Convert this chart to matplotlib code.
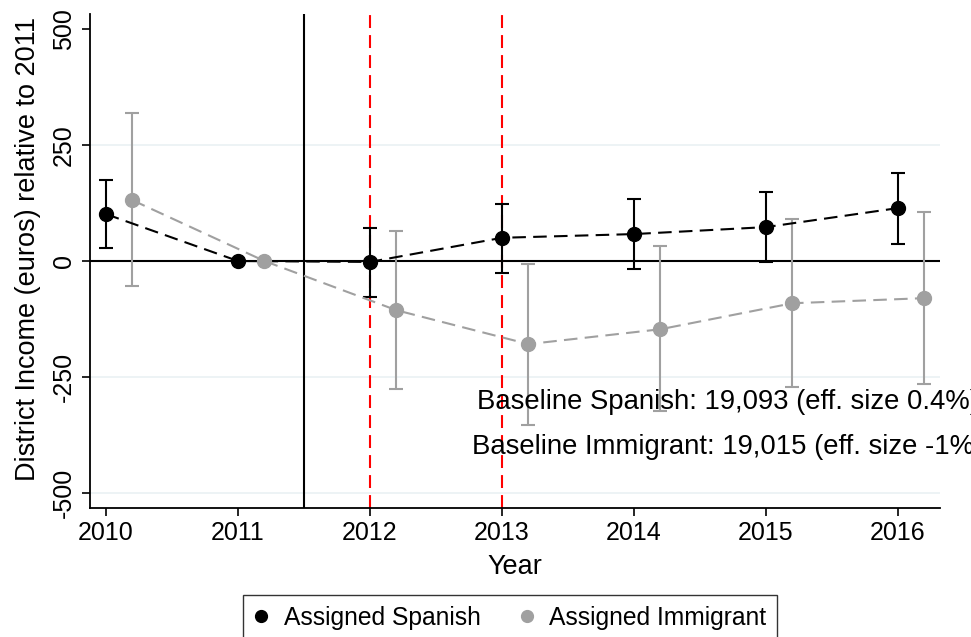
import numpy as np
from matplotlib import pyplot as plt

plt.rcParams['font.family'] = ['Liberation Sans', 'DejaVu Sans']

# region Data
years = [2010, 2011, 2012, 2013, 2014, 2015, 2016]
spanish = [101, 0, -2, 50, 58, 73, 114]
spanish_hi = [175, 0, 71, 123, 133, 149, 190]
spanish_lo = [28, 0, -78, -26, -17, -2, 37]
immigrant = [131, 0, -106, -179, -147, -91, -80]
immigrant_hi = [319, 0, 65, -6, 33, 90, 105]
immigrant_lo = [-54, 0, -276, -353, -323, -272, -264]
note_spanish = "Baseline Spanish: 19,093 (eff. size 0.4%)"
note_immigrant = "Baseline Immigrant: 19,015 (eff. size -1%)"
# endregion

black = "#000000"
gray = "#a0a0a0"

fig = plt.figure(figsize=(9.71, 6.37), dpi=100)
ax = fig.add_axes([90 / 971, 1 - 508 / 637, 850 / 971, 494 / 637])

x_sp = np.array(years, dtype=float)
x_im = x_sp + 0.2

# gridlines
for g in [-500, -250, 250]:
    ax.axhline(g, color="#eaf1f3", lw=1.2, zorder=0)

ax.axhline(0, color=black, lw=1.5, zorder=1)
ax.axvline(2011.5, color=black, lw=1.5, zorder=1)
for yr in [2012, 2013]:
    ax.axvline(yr, color="red", lw=1.5, ls=(0, (6.2, 3.4)), zorder=2)

sp = np.array(spanish)
im = np.array(immigrant)
ax.errorbar(x_sp, sp, yerr=[sp - np.array(spanish_lo), np.array(spanish_hi) - sp],
            fmt="none", ecolor=black, elinewidth=1.5, capsize=5, capthick=1.5, zorder=3)
ax.errorbar(x_im, im, yerr=[im - np.array(immigrant_lo), np.array(immigrant_hi) - im],
            fmt="none", ecolor=gray, elinewidth=1.5, capsize=5, capthick=1.5, zorder=3)
ax.plot(x_sp, sp, color=black, ls=(0, (6.5, 3.5)), lw=1.5, zorder=4)
ax.plot(x_im, im, color=gray, ls=(0, (6.5, 3.5)), lw=1.5, zorder=4)
l1, = ax.plot(x_sp, sp, "o", color=black, ms=10, zorder=5, label="Assigned Spanish")
l2, = ax.plot(x_im, im, "o", color=gray, ms=10, zorder=5, label="Assigned Immigrant")

# the reference crops these notes at the right edge
ax.text(2012.81, -304, note_spanish, fontsize=19.8, va="center", ha="left", clip_on=False)
ax.text(2012.775, -401, note_immigrant, fontsize=19.8, va="center", ha="left", clip_on=False)

ax.set_xlim(2009.879, 2016.318)
ax.set_ylim(-532, 532)
ax.set_xticks(years)
ax.set_xticklabels([str(y) for y in years], fontsize=18)
ax.set_yticks([-500, -250, 0, 250, 500])
ax.set_yticklabels(["-500", "-250", "0", "250", "500"], fontsize=18, rotation=90, va="center")
ax.tick_params(axis="both", length=6, width=1.2, color=black)
ax.tick_params(axis="y", pad=4)
ax.spines["top"].set_visible(False)
ax.spines["right"].set_visible(False)
ax.spines["left"].set_linewidth(1.3)
ax.spines["bottom"].set_linewidth(1.3)
ax.set_xlabel("Year", fontsize=19.5, labelpad=6)
ax.set_ylabel("District Income (euros) relative to 2011", fontsize=19.5, labelpad=8)
ax.yaxis.label.set_y(0.525)

leg = fig.legend(handles=[l1, l2], loc="upper left", bbox_to_anchor=(243 / 971, 1 - 595 / 637),
                 ncol=2, fontsize=17.7, frameon=True, fancybox=False, edgecolor=black,
                 markerscale=0.85, handlelength=0.6, handletextpad=0.6, columnspacing=1.6,
                 borderpad=0.45, borderaxespad=0)
leg.get_frame().set_linewidth(1.0)

fig.savefig("out.png", dpi=100)
